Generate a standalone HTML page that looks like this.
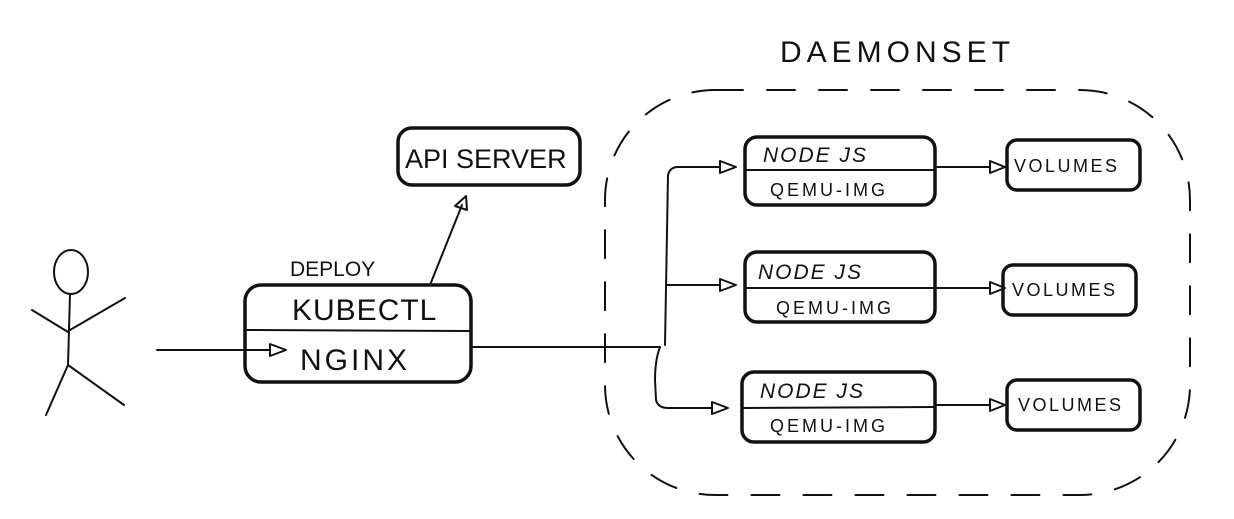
<!DOCTYPE html>
<html><head><meta charset="utf-8"><style>
html,body{margin:0;padding:0;background:#fff;}
svg{display:block}
text{font-family:"Liberation Sans",sans-serif;fill:#111;}
</style></head><body>
<svg width="1234" height="519" viewBox="0 0 1234 519" xmlns="http://www.w3.org/2000/svg">
<g fill="none" stroke="#111" stroke-linecap="round" stroke-linejoin="round">
<ellipse cx="71" cy="272" rx="17" ry="22" stroke-width="2"/>
<path d="M70 294 L68 365 M32 310 L68 332 M125 298 L70 330 M68 365 L46 415 M68 365 L124 405" stroke-width="2"/>
<path d="M157 350 L270 350" stroke-width="2"/>
<path d="M270 344 L286 350 L270 356 Z" stroke-width="2"/>
<rect x="245" y="285" width="226" height="97" rx="16" stroke-width="3.5"/>
<path d="M247 330 L469 331" stroke-width="2"/>
<path d="M430 285 L462 205" stroke-width="2"/>
<path d="M455 206 L466 196 L467 210 Z" stroke-width="2"/>
<rect x="398" y="128" width="182" height="57" rx="14" stroke-width="3.5"/>
<path d="M471 347 L660 347" stroke-width="2"/>
<path d="M665 345 L668 175 Q670 167 678 167 L720 167" stroke-width="2"/>
<path d="M666 285 L720 285" stroke-width="2"/>
<path d="M660 347 Q655 360 655 380 L656 400 Q658 408 668 408 L712 408" stroke-width="2"/>
<path d="M720 161 L736 167 L720 173 Z" stroke-width="2"/>
<path d="M720 279 L736 285 L720 291 Z" stroke-width="2"/>
<path d="M712 402 L728 408 L712 414 Z" stroke-width="2"/>
<rect x="745" y="137" width="190" height="68" rx="12" stroke-width="3.5"/>
<path d="M747 170 L933 170" stroke-width="2"/>
<rect x="745" y="252" width="190" height="70" rx="12" stroke-width="3.5"/>
<path d="M747 288 L933 288" stroke-width="2"/>
<rect x="742" y="372" width="193" height="70" rx="12" stroke-width="3.5"/>
<path d="M744 408 L933 407" stroke-width="2"/>
<path d="M935 167 L990 167 M935 288 L990 288 M935 405 L990 405" stroke-width="2"/>
<path d="M990 161 L1005 167 L990 173 Z M990 282 L1005 288 L990 294 Z M990 399 L1005 405 L990 411 Z" stroke-width="2"/>
<rect x="1007" y="140" width="133" height="50" rx="10" stroke-width="3.5"/>
<rect x="1003" y="265" width="133" height="50" rx="10" stroke-width="3.5"/>
<rect x="1007" y="380" width="133" height="50" rx="10" stroke-width="3.5"/>
<rect x="605" y="90" width="585" height="405" rx="110" stroke-width="2" stroke-dasharray="28 24"/>
</g>
<text x="290" y="276" font-size="21">DEPLOY</text>
<text x="292" y="320" font-size="30" letter-spacing="1">KUBECTL</text>
<text x="300" y="370" font-size="30" letter-spacing="3">NGINX</text>
<text x="405" y="168" font-size="27">API SERVER</text>
<text x="763" y="162" font-size="21" font-style="italic" letter-spacing="2">NODE JS</text>
<text x="770" y="196" font-size="18" letter-spacing="3">QEMU-IMG</text>
<text x="758" y="279" font-size="21" font-style="italic" letter-spacing="2">NODE JS</text>
<text x="776" y="314" font-size="18" letter-spacing="3">QEMU-IMG</text>
<text x="760" y="398" font-size="21" font-style="italic" letter-spacing="2">NODE JS</text>
<text x="770" y="432" font-size="18" letter-spacing="3">QEMU-IMG</text>
<text x="1014" y="172" font-size="18" letter-spacing="2.5">VOLUMES</text>
<text x="1012" y="296" font-size="18" letter-spacing="2.5">VOLUMES</text>
<text x="1018" y="411" font-size="18" letter-spacing="2.5">VOLUMES</text>
<text x="780" y="62" font-size="30" letter-spacing="5">DAEMONSET</text>
</svg>
</body></html>
